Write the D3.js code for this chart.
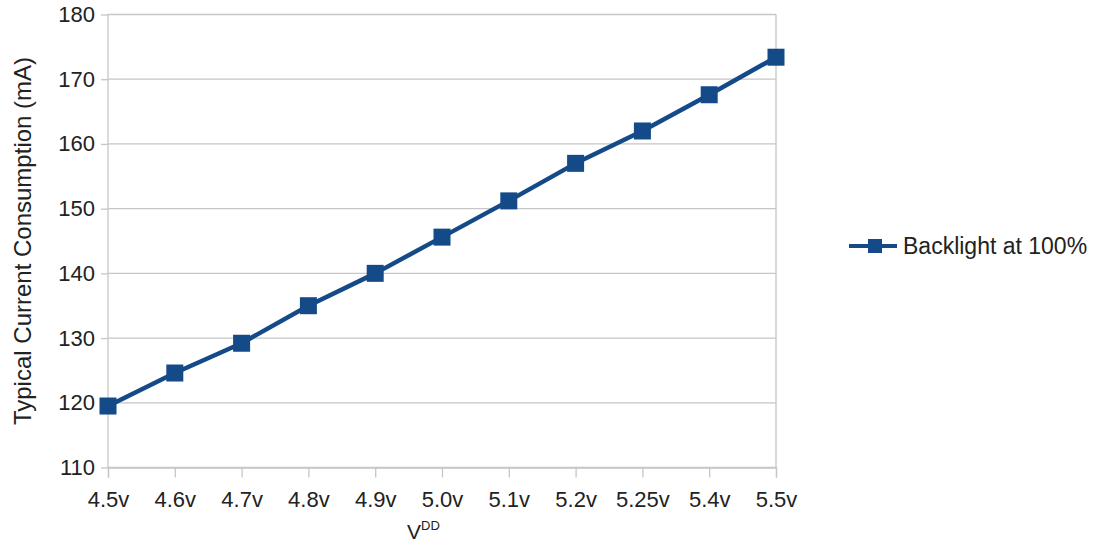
<!DOCTYPE html>
<html>
<head>
<meta charset="utf-8">
<script src="https://cdn.jsdelivr.net/npm/d3@7"></script>
<style>
  html, body { margin: 0; padding: 0; background: #fff; }
  svg text { font-family: "Liberation Sans", Arial, sans-serif; fill: #222; }
</style>
</head>
<body>
<svg id="chart" width="1101" height="544"></svg>
<script>
// Data
var voltages = ['4.5v', '4.6v', '4.7v', '4.8v', '4.9v', '5.0v', '5.1v', '5.2v', '5.25v', '5.4v', '5.5v'];
var currents = [119.5, 124.6, 129.2, 135.0, 140.0, 145.6, 151.2, 157.0, 162.0, 167.6, 173.4];
var yTicks = [110, 120, 130, 140, 150, 160, 170, 180];
var seriesName = 'Backlight at 100%';

var BLUE = '#154a88';
var GRID = '#c6c6c6';

var svg = d3.select('#chart');
var m = { left: 108, right: 776, top: 14.5, bottom: 467.5 };

var x = d3.scalePoint().domain(voltages).range([m.left, m.right]).padding(0);
var y = d3.scaleLinear().domain([110, 180]).range([m.bottom, m.top]);

// horizontal grid + y axis
var yAxis = svg.append('g').attr('transform', 'translate(' + m.left + ',0)')
    .call(d3.axisLeft(y).tickValues(yTicks).tickSize(7).tickPadding(6));
yAxis.select('.domain').remove();
yAxis.selectAll('line').attr('stroke', GRID).attr('stroke-width', 1.3);
yAxis.selectAll('text').attr('font-size', 22).attr('fill', '#222');

svg.append('g').selectAll('line').data(yTicks).enter().append('line')
    .attr('x1', m.left).attr('x2', m.right)
    .attr('y1', d => y(d)).attr('y2', d => y(d))
    .attr('stroke', GRID).attr('stroke-width', 1.3);

// plot frame verticals
svg.append('line').attr('x1', m.left).attr('x2', m.left).attr('y1', m.top).attr('y2', m.bottom)
    .attr('stroke', GRID).attr('stroke-width', 1.3);
svg.append('line').attr('x1', m.right).attr('x2', m.right).attr('y1', m.top).attr('y2', m.bottom)
    .attr('stroke', GRID).attr('stroke-width', 1.3);

// x axis
var xAxis = svg.append('g').attr('transform', 'translate(0,' + m.bottom + ')')
    .call(d3.axisBottom(x).tickSize(10).tickPadding(14));
xAxis.select('.domain').attr('stroke', GRID).attr('stroke-width', 1.3);
xAxis.selectAll('line').attr('stroke', GRID).attr('stroke-width', 1.3);
xAxis.selectAll('text').attr('font-size', 22).attr('fill', '#222');

// series line
var line = d3.line().x((d, i) => x(voltages[i])).y(d => y(d));
svg.append('path').datum(currents)
    .attr('d', line).attr('fill', 'none')
    .attr('stroke', BLUE).attr('stroke-width', 4.5).attr('stroke-linejoin', 'round');

var SQ = 17;
svg.append('g').selectAll('rect').data(currents).enter().append('rect')
    .attr('x', (d, i) => x(voltages[i]) - SQ / 2)
    .attr('y', d => y(d) - SQ / 2)
    .attr('width', SQ).attr('height', SQ)
    .attr('fill', BLUE);

// axis titles
svg.append('text')
    .attr('transform', 'translate(31,' + ((m.top + m.bottom) / 2) + ') rotate(-90)')
    .attr('text-anchor', 'middle').attr('font-size', 24)
    .text('Typical Current Consumption (mA)');

var xt = svg.append('text').attr('x', 407).attr('y', 539).attr('font-size', 21);
xt.append('tspan').text('V');
xt.append('tspan').attr('font-size', 13).attr('dy', -9).text('DD');

// legend
var ly = 246;
svg.append('line').attr('x1', 849).attr('x2', 897).attr('y1', ly).attr('y2', ly)
    .attr('stroke', BLUE).attr('stroke-width', 4);
svg.append('rect').attr('x', 875 - 7).attr('y', ly - 7).attr('width', 14).attr('height', 14).attr('fill', BLUE);
svg.append('text').attr('x', 903).attr('y', ly).attr('dy', '0.35em')
    .attr('font-size', 23).text(seriesName);
</script>
</body>
</html>
